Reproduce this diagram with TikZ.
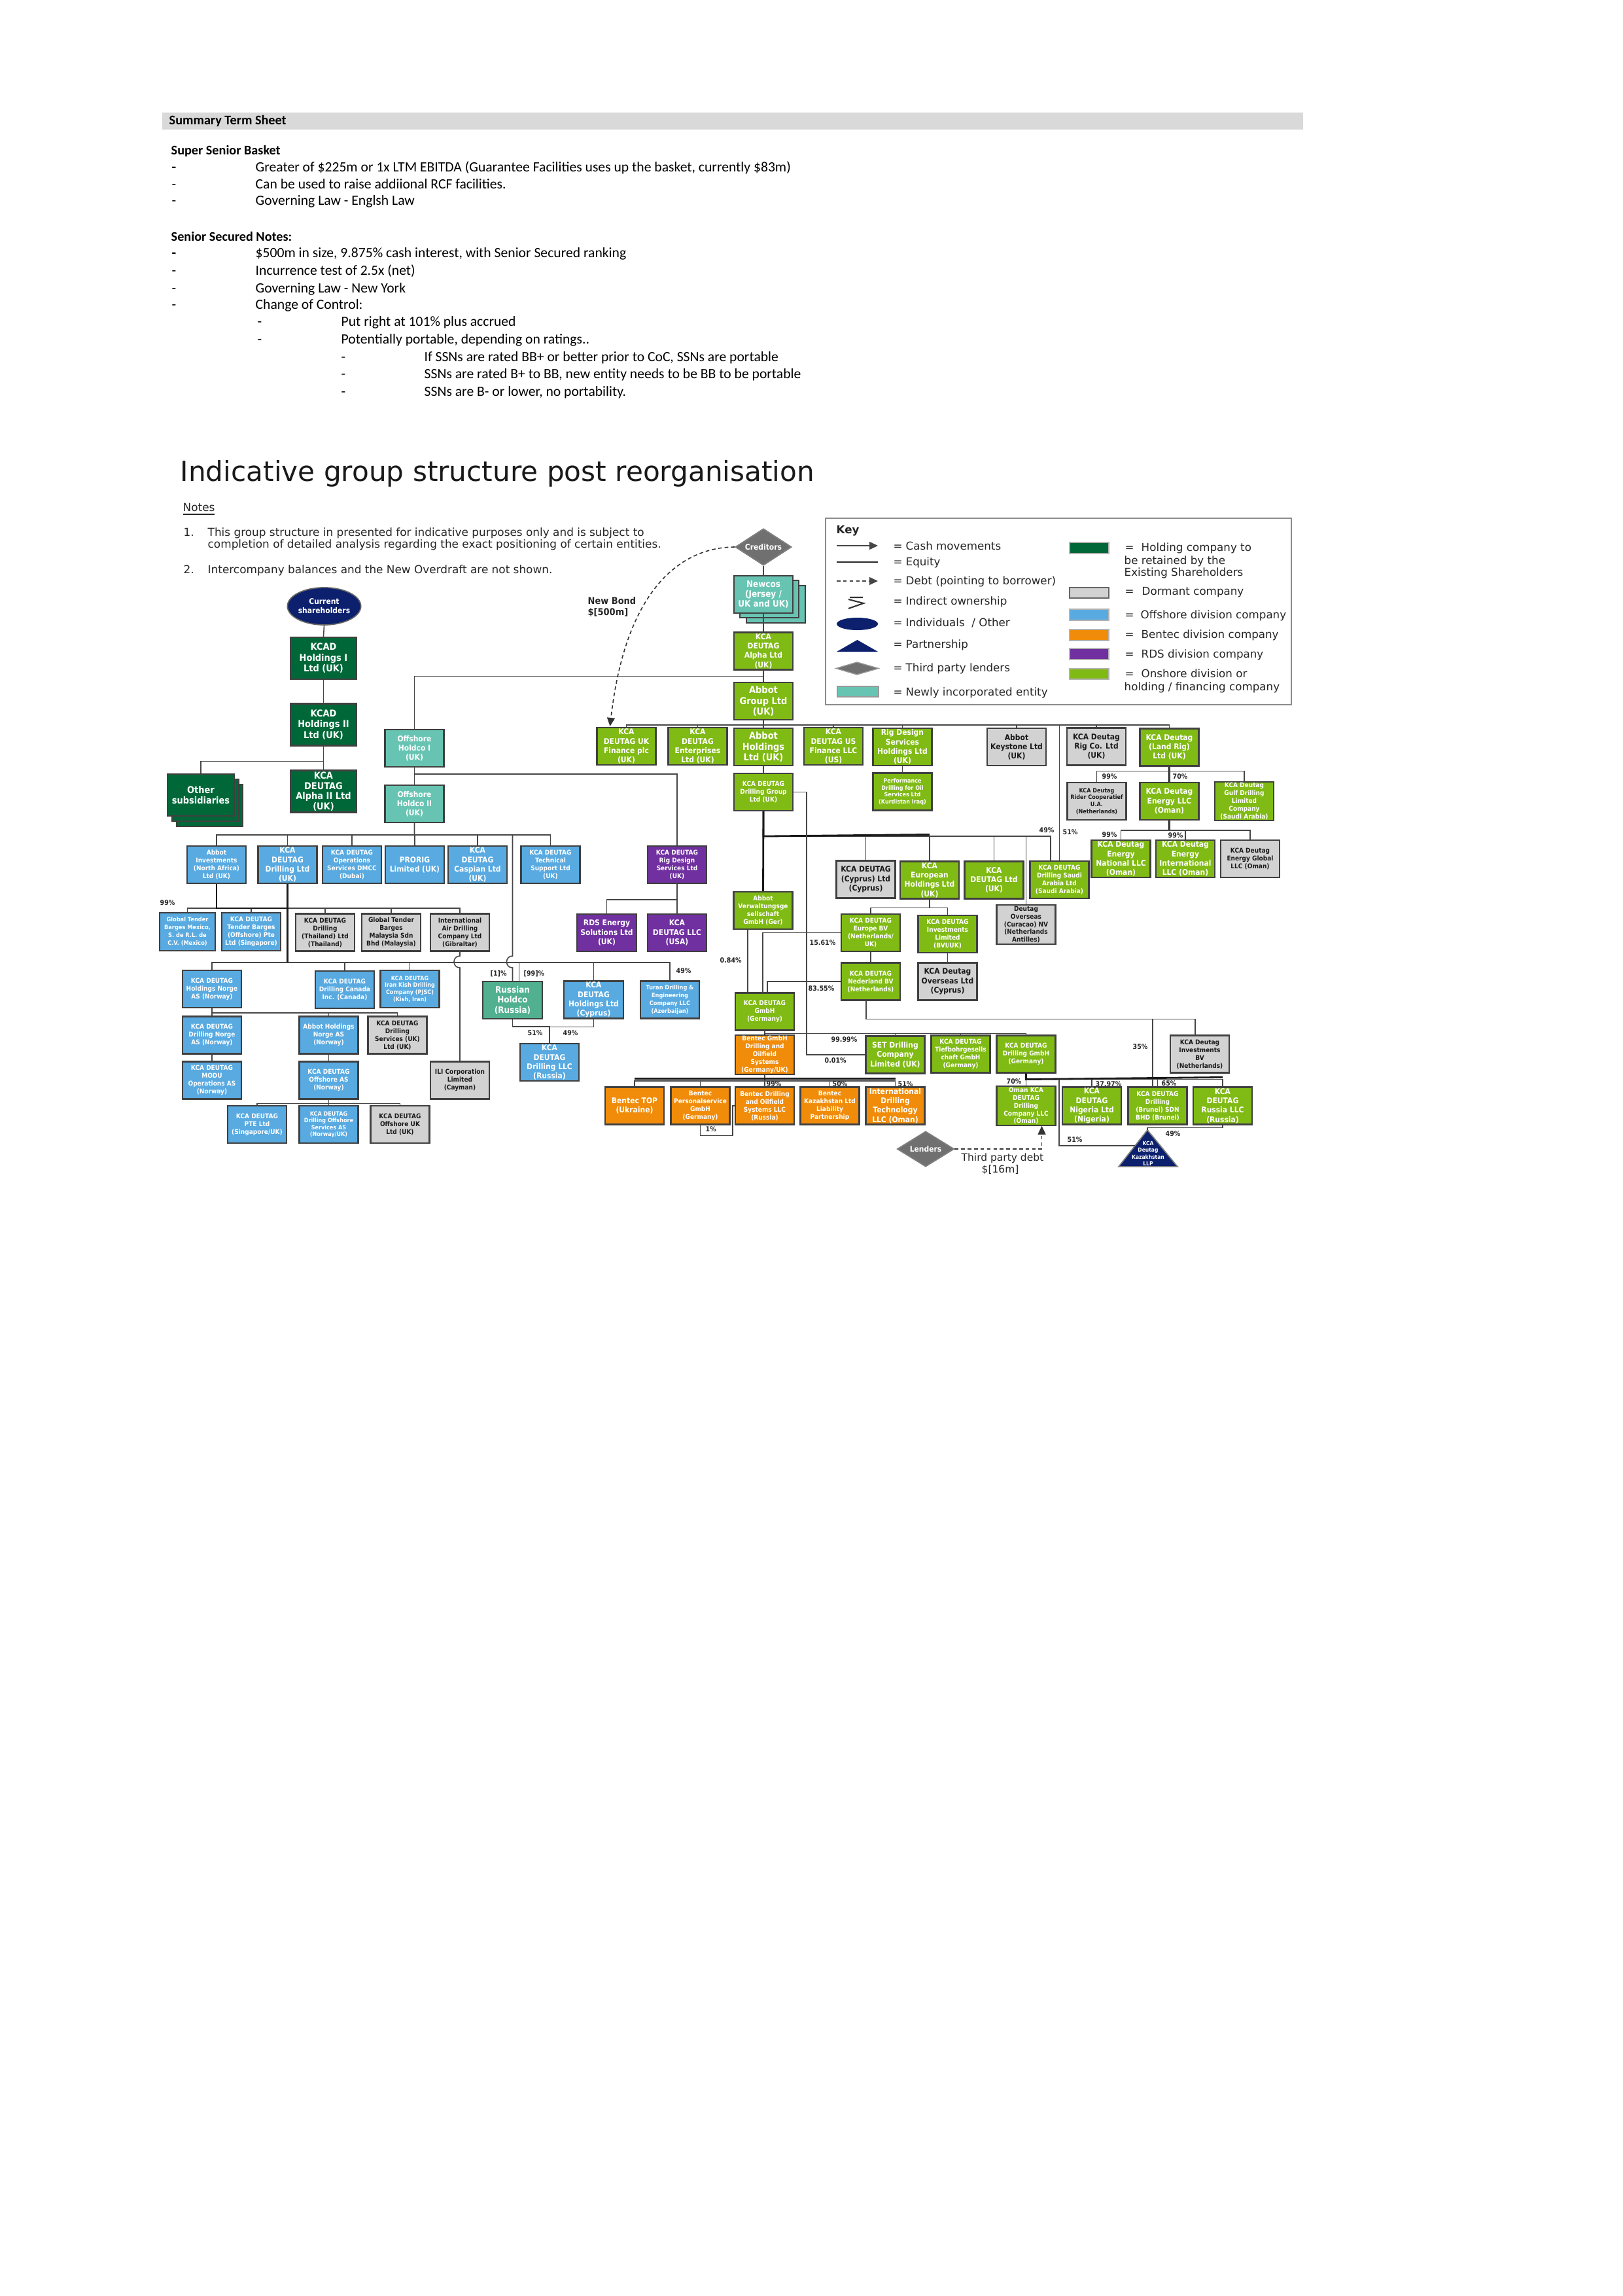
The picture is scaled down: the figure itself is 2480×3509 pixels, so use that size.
\documentclass[tikz,border=0pt]{standalone}
\usepackage{fontspec}
\setmainfont{DejaVu Sans}
\newfontfamily\tsfont{Carlito}
\newfontfamily\boxfont[FakeStretch=0.9]{DejaVu Sans}
\newfontfamily\dvfont{DejaVu Sans}
\usetikzlibrary{arrows.meta,shapes.geometric,calc}
\definecolor{cLime}{RGB}{128,186,20}
\definecolor{cDark}{RGB}{0,104,56}
\definecolor{cBlue}{RGB}{88,170,225}
\definecolor{cGray}{RGB}{210,210,210}
\definecolor{cOrange}{RGB}{240,140,10}
\definecolor{cPurple}{RGB}{112,48,160}
\definecolor{cTeal}{RGB}{104,196,178}
\definecolor{cTealD}{RGB}{80,176,144}
\definecolor{cNavy}{RGB}{12,32,110}
\definecolor{cDiam}{RGB}{112,112,112}
\definecolor{cBar}{RGB}{217,217,217}
\definecolor{cLine}{RGB}{70,70,70}
\tikzset{
 bx/.style={draw=black!75, line width=0.6pt, inner sep=0.4pt, align=center, minimum width=0.9cm, minimum height=0.57cm, text=white},
 gbox/.style={bx, fill=cLime},
 bbox/.style={bx, fill=cBlue},
 ybox/.style={bx, fill=cGray, text=black!90},
 obox/.style={bx, fill=cOrange},
 pbox/.style={bx, fill=cPurple},
 dbox/.style={bx, fill=cDark, minimum width=1.01cm, minimum height=0.64cm},
 tbox/.style={bx, fill=cTeal},
 fK/.style={font=\boxfont\bfseries\fontsize{4.1}{4.7}\selectfont},
 fA/.style={font=\boxfont\bfseries\fontsize{3.8}{4.4}\selectfont},
 fB/.style={font=\boxfont\bfseries\fontsize{3.4}{4.05}\selectfont},
 fC/.style={font=\boxfont\bfseries\fontsize{2.85}{3.4}\selectfont},
 fCn/.style={font=\boxfont\bfseries\fontsize{2.6}{3.4}\selectfont},
 fD/.style={font=\boxfont\bfseries\fontsize{2.55}{3.0}\selectfont},
 ln/.style={draw=cLine, line width=0.45pt},
 thk/.style={draw=black!90, line width=0.8pt},
 pct/.style={anchor=base west, inner sep=0pt, font=\boxfont\bfseries\fontsize{3}{3.5}\selectfont, text=black!85},
 ts/.style={anchor=base west, inner sep=0pt, font=\tsfont\fontsize{6.15}{7}\selectfont},
 tsb/.style={anchor=base west, inner sep=0pt, font=\tsfont\bfseries\fontsize{5.75}{7}\selectfont},
 nt/.style={anchor=base west, inner sep=0pt, font=\dvfont\fontsize{4.8}{5.5}\selectfont, text=black!85},
 keyt/.style={anchor=base west, inner sep=0pt, font=\dvfont\fontsize{4.75}{5.4}\selectfont, text=black!85},
 tip/.style={-{Triangle[length=3.7pt,width=3.4pt]}},
}
\begin{document}
\begin{tikzpicture}[x=0.01cm,y=-0.01cm]
\useasboundingbox (0,0) rectangle (2480,3509);
\fill[white] (0,0) rectangle (2480,3509);
% ================= Term sheet
\fill[cBar] (248,172) rectangle (1992,198);
\node[tsb] (tsT) at (258,191) {Summary Term Sheet};
\node[tsb] (tsH1) at (261,236) {Super Senior Basket};
\node[ts] (tsd1) at (262,262) {\textbf{-}};
\node[ts] (tsl1) at (390,262) {Greater of \$225m or 1x LTM EBITDA (Guarantee Facilities uses up the basket, currently \$83m)};
\node[ts] (tsd2) at (262,288) {-};
\node[ts] (tsl2) at (390,288) {Can be used to raise addiional RCF facilities.};
\node[ts] (tsd3) at (262,313) {-};
\node[ts] (tsl3) at (390,313) {Governing Law - Englsh Law};
\node[tsb] (tsH2) at (261,368) {Senior Secured Notes:};
\node[ts] (tsd4) at (262,393) {\textbf{-}};
\node[ts] (tsl4) at (390,393) {\$500m in size, 9.875\% cash interest, with Senior Secured ranking};
\node[ts] (tsd5) at (262,420) {-};
\node[ts] (tsl5) at (390,420) {Incurrence test of 2.5x (net)};
\node[ts] (tsd6) at (262,447) {-};
\node[ts] (tsl6) at (390,447) {Governing Law - New York};
\node[ts] (tsd7) at (262,472) {-};
\node[ts] (tsl7) at (390,472) {Change of Control:};
\node[ts] (tsd8) at (393,498) {-};
\node[ts] (tsl8) at (521,498) {Put right at 101\% plus accrued};
\node[ts] (tsd9) at (393,525) {-};
\node[ts] (tsl9) at (521,525) {Potentially portable, depending on ratings..};
\node[ts] (tsd10) at (521,552) {-};
\node[ts] (tsl10) at (648,552) {If SSNs are rated BB+ or better prior to CoC, SSNs are portable};
\node[ts] (tsd11) at (521,578) {-};
\node[ts] (tsl11) at (648,578) {SSNs are rated B+ to BB, new entity needs to be BB to be portable};
\node[ts] (tsd12) at (521,605) {-};
\node[ts] (tsl12) at (648,605) {SSNs are B- or lower, no portability.};
% ================= Title and notes
\node[anchor=base west, inner sep=0pt, font=\dvfont\fontsize{12}{14}\selectfont, text=black!90] (title) at (275,735) {Indicative group structure post reorganisation};
\node[nt] (notes) at (279,781) {\underline{Notes}};
\node[nt] (n1) at (280,819) {1.};
\node[nt] (n1a) at (317,819) {This group structure in presented for indicative purposes only and is subject to};
\node[nt] (n1b) at (317,837) {completion of detailed analysis regarding the exact positioning of certain entities.};
\node[nt] (n2) at (280,876) {2.};
\node[nt] (n2a) at (317,876) {Intercompany balances and the New Overdraft are not shown.};
% ================= Key
\draw[draw=black!45, line width=0.7pt] (1262,792) rectangle (1974,1077);
\node[keyt, font=\dvfont\bfseries\fontsize{4.75}{5.4}\selectfont] (keyT) at (1278,815) {Key};
\coordinate (kA1) at (1279,834); \coordinate (kA2) at (1342,834);
\draw[ln, tip] (kA1) -- (kA2);
\coordinate (kB1) at (1279,859); \coordinate (kB2) at (1342,859);
\draw[ln, draw=black!85] (kB1) -- (kB2);
\coordinate (kC1) at (1279,888); \coordinate (kC2) at (1342,888);
\draw[ln, dash pattern=on 1.6pt off 1.2pt, tip] (kC1) -- (kC2);
\draw[line width=0.6pt, draw=black!80] (1299,913) -- (1319,913) (1297,916) -- (1320,922) -- (1297,930);
\fill[cNavy] (1310.5,953.5) ellipse[x radius=31.5, y radius=9.5];
\fill[cNavy] (1279,996) -- (1310.5,978) -- (1342,996) -- cycle;
\filldraw[fill=cDiam, draw=black!40] (1278,1021.5) -- (1310,1012) -- (1343,1021.5) -- (1310,1031) -- cycle;
\filldraw[fill=cTeal, draw=black!40] (1280,1049) rectangle (1343,1065);
\foreach \yy/\tt [count=\i] in {840/{Cash movements},864/{Equity},893/{Debt (pointing to borrower)},924/{Indirect ownership},957/{Individuals ~/ Other},990/{Partnership},1026/{Third party lenders},1063/{Newly incorporated entity}}{
  \node[keyt] (keq\i) at (1365,\yy) {=};
  \node[keyt] (ktx\i) at (1384,\yy) {\tt};
}
\filldraw[fill=cDark, draw=black!30] (1635,829) rectangle (1695,846);
\filldraw[fill=cGray, draw=black!60] (1635,898) rectangle (1695,914);
\filldraw[fill=cBlue, draw=black!30] (1635,931) rectangle (1695,948);
\filldraw[fill=cOrange, draw=black!30] (1635,962) rectangle (1695,979);
\filldraw[fill=cPurple, draw=black!30] (1635,991) rectangle (1695,1008);
\filldraw[fill=cLime, draw=black!30] (1635,1022) rectangle (1695,1038);
\node[keyt] (kr1e) at (1719,842) {=};
\node[keyt] (kr1) at (1744,842) {Holding company to};
\node[keyt] (kr1b) at (1718,862) {be retained by the};
\node[keyt] (kr1c) at (1718,880) {Existing Shareholders};
\node[keyt] (kr2e) at (1719,909) {=};
\node[keyt] (kr2) at (1745,909) {Dormant company};
\node[keyt] (kr3e) at (1719,945) {=};
\node[keyt] (kr3) at (1743,945) {Offshore division company};
\node[keyt] (kr4e) at (1719,975) {=};
\node[keyt] (kr4) at (1744,975) {Bentec division company};
\node[keyt] (kr5e) at (1719,1005) {=};
\node[keyt] (kr5) at (1744,1005) {RDS division company};
\node[keyt] (kr6e) at (1719,1035) {=};
\node[keyt] (kr6) at (1744,1035) {Onshore division or};
\node[keyt] (kr6b) at (1718,1055) {holding / financing company};
% ================= Nodes: left holding column
\node[ellipse, fill=cNavy, draw=black!60, line width=0.5pt, minimum width=1.01cm, minimum height=0.57cm, inner sep=0pt, align=center, text=white, fB] (cs) at (495.5,926.5) {Current\\shareholders};
\node[dbox, fK] (kcad1) at (494.5,1006) {KCAD\\Holdings I\\Ltd (UK)};
\node[dbox, fK] (kcad2) at (494.5,1107.5) {KCAD\\Holdings II\\Ltd (UK)};
\node[dbox, fK, font=\boxfont\bfseries\fontsize{4.1}{4.5}\selectfont] (alpha2) at (494.5,1209.5) {KCA\\DEUTAG\\Alpha II Ltd\\(UK)};
\filldraw[fill=cDark, draw=black!75, line width=0.6pt] (270,1199) rectangle (371,1263);
\filldraw[fill=cDark, draw=black!75, line width=0.6pt] (263,1191) rectangle (365,1255);
\node[dbox, fK, minimum width=1.02cm] (other) at (307,1215) {Other\\subsidiaries};
% teal
\node[tbox, fB] (holdco1) at (633.5,1143.5) {Offshore\\Holdco I\\(UK)};
\node[tbox, fB] (holdco2) at (633.5,1228.5) {Offshore\\Holdco II\\(UK)};
\filldraw[fill=cTeal, draw=black!75, line width=0.6pt] (1141,895) rectangle (1231,952);
\filldraw[fill=cTeal, draw=black!75, line width=0.6pt] (1131,887) rectangle (1221,944);
\node[tbox, fA] (newcos) at (1167,908.5) {Newcos\\(Jersey /\\UK and UK)};
\node[tbox, fill=cTealD, fA, minimum width=0.91cm] (russian) at (783.5,1528.5) {Russian\\Holdco\\(Russia)};
% diamonds
\node[diamond, aspect=1.55, fill=cDiam, draw=black!50, line width=0.5pt, minimum width=0.86cm, minimum height=0.56cm, inner sep=0pt, text=white, fB] (cred) at (1167,836) {Creditors};
\node[diamond, aspect=1.6, fill=cDiam, draw=black!50, line width=0.5pt, minimum width=0.87cm, minimum height=0.54cm, inner sep=0pt, text=white, fB] (lenders) at (1415,1756) {Lenders};
% text labels
\node[anchor=base west, inner sep=0pt, font=\boxfont\bfseries\fontsize{4.1}{5}\selectfont, text=black!85] (nb1) at (898,923) {New Bond};
\node[anchor=base west, inner sep=0pt, font=\boxfont\bfseries\fontsize{4.1}{5}\selectfont, text=black!85] (nb2) at (898,940) {\$[500m]};
\node[anchor=base west, inner sep=0pt, font=\dvfont\fontsize{4.4}{5}\selectfont, text=black!85] (tpd1) at (1469,1774) {Third party debt};
\node[anchor=base west, inner sep=0pt, font=\dvfont\fontsize{4.4}{5}\selectfont, text=black!85] (tpd2) at (1500,1792) {\$[16m]};
% lime main column
\node[gbox, fB] (alpha) at (1167,995) {KCA\\DEUTAG\\Alpha Ltd\\(UK)};
\node[gbox, fK] (abbotgroup) at (1167,1071.5) {Abbot\\Group Ltd\\(UK)};
\node[gbox, fB] (ukfin) at (957.5,1140.5) {KCA\\DEUTAG UK\\Finance plc\\(UK)};
\node[gbox, fB] (enterprises) at (1066.5,1140.5) {KCA\\DEUTAG\\Enterprises\\Ltd (UK)};
\node[gbox, fK] (abbotholdings) at (1167,1141.5) {Abbot\\Holdings\\Ltd (UK)};
\node[gbox, fB] (usfin) at (1274,1140.5) {KCA\\DEUTAG US\\Finance LLC\\(US)};
\node[gbox, fB] (rigdesignhold) at (1379.5,1141.5) {Rig Design\\Services\\Holdings Ltd\\(UK)};
\node[gbox, fD] (perf) at (1379.5,1210) {Performance\\Drilling for Oil\\Services Ltd\\(Kurdistan Iraq)};
\node[gbox, fC] (drillgroup) at (1167,1210.5) {KCA DEUTAG\\Drilling Group\\Ltd (UK)};
\node[gbox, fC] (verw) at (1166.5,1391.5) {Abbot\\Verwaltungsge\\sellschaft\\GmbH (Ger)};
\node[gbox, fB] (european) at (1421,1345) {KCA\\European\\Holdings Ltd\\(UK)};
\node[gbox, fB] (kcaltd) at (1519.5,1345) {KCA\\DEUTAG Ltd\\(UK)};
\node[gbox, fC] (saudi) at (1619.5,1344.5) {KCA DEUTAG\\Drilling Saudi\\Arabia Ltd\\(Saudi Arabia)};
\node[gbox, fC] (europebv) at (1331,1425.5) {KCA DEUTAG\\Europe BV\\(Netherlands/\\UK)};
\node[gbox, fC] (investments) at (1448.5,1427.5) {KCA DEUTAG\\Investments\\Limited\\(BVI/UK)};
\node[gbox, fC] (nederland) at (1331,1500) {KCA DEUTAG\\Nederland BV\\(Netherlands)};
\node[gbox, fC] (gmbh) at (1169,1546) {KCA DEUTAG\\GmbH\\(Germany)};
\node[gbox, fB] (set) at (1368.5,1612) {SET Drilling\\Company\\Limited (UK)};
\node[gbox, fC] (tiefbohr) at (1468.5,1611) {KCA DEUTAG\\Tiefbohrgesells\\chaft GmbH\\(Germany)};
\node[gbox, fC] (drillgmbh) at (1568.5,1611) {KCA DEUTAG\\Drilling GmbH\\(Germany)};
\node[gbox, fC] (omankca) at (1568.5,1690) {Oman KCA\\DEUTAG\\Drilling\\Company LLC\\(Oman)};
\node[gbox, fB] (nigeria) at (1669,1690) {KCA\\DEUTAG\\Nigeria Ltd\\(Nigeria)};
\node[gbox, fC] (brunei) at (1769.5,1690) {KCA DEUTAG\\Drilling\\(Brunei) SDN\\BHD (Brunei)};
\node[gbox, fB] (russiallc) at (1869,1690) {KCA\\DEUTAG\\Russia LLC\\(Russia)};
\node[gbox, fB] (landrig) at (1787.5,1142) {KCA Deutag\\(Land Rig)\\Ltd (UK)};
\node[gbox, fB] (energyllc) at (1787.5,1224.5) {KCA Deutag\\Energy LLC\\(Oman)};
\node[gbox, fC] (gulf) at (1902,1224.5) {KCA Deutag\\Gulf Drilling\\Limited\\Company\\(Saudi Arabia)};
\node[gbox, fB] (national) at (1713.5,1312.5) {KCA Deutag\\Energy\\National LLC\\(Oman)};
\node[gbox, fB] (international) at (1812,1312.5) {KCA Deutag\\Energy\\International\\LLC (Oman)};
% gray (dormant)
\node[ybox, fB] (keystone) at (1554,1141.5) {Abbot\\Keystone Ltd\\(UK)};
\node[ybox, fB] (rigco) at (1676,1141) {KCA Deutag\\Rig Co. Ltd\\(UK)};
\node[ybox, fD] (rider) at (1676.5,1224.5) {KCA Deutag\\Rider Cooperatief\\U.A.\\(Netherlands)};
\node[ybox, fC] (global) at (1911,1312.5) {KCA Deutag\\Energy Global\\LLC (Oman)};
\node[ybox, fB] (cyprusltd) at (1323.5,1344) {KCA DEUTAG\\(Cyprus) Ltd\\(Cyprus)};
\node[ybox, fC] (curacao) at (1568.5,1413) {Deutag\\Overseas\\(Curacao) NV\\(Netherlands\\Antilles)};
\node[ybox, fB] (overseas) at (1448.5,1500) {KCA Deutag\\Overseas Ltd\\(Cyprus)};
\node[ybox, fC] (invbv) at (1834,1611) {KCA Deutag\\Investments\\BV\\(Netherlands)};
\node[ybox, fC] (thailand) at (497,1425) {KCA DEUTAG\\Drilling\\(Thailand) Ltd\\(Thailand)};
\node[ybox, fC] (malaysia) at (598,1425) {Global Tender\\Barges\\Malaysia Sdn\\Bhd (Malaysia)};
\node[ybox, fC] (iad) at (703,1425) {International\\Air Drilling\\Company Ltd\\(Gibraltar)};
\node[ybox, fC] (drillserv) at (607.5,1582) {KCA DEUTAG\\Drilling\\Services (UK)\\Ltd (UK)};
\node[ybox, fC] (ili) at (703,1651) {ILI Corporation\\Limited\\(Cayman)};
\node[ybox, fC] (offshoreuk) at (611.5,1718.5) {KCA DEUTAG\\Offshore UK\\Ltd (UK)};
% blue (offshore)
\node[bbox, fC] (abbotinv) at (331,1321.5) {Abbot\\Investments\\(North Africa)\\Ltd (UK)};
\node[bbox, fB] (kcadrill) at (439.5,1321.5) {KCA\\DEUTAG\\Drilling Ltd\\(UK)};
\node[bbox, fC] (dmcc) at (538,1321.5) {KCA DEUTAG\\Operations\\Services DMCC\\(Dubai)};
\node[bbox, fB] (prorig) at (634,1321.5) {PRORIG\\Limited (UK)};
\node[bbox, fB] (caspian) at (730,1321.5) {KCA\\DEUTAG\\Caspian Ltd\\(UK)};
\node[bbox, fC] (techsupport) at (841.5,1321.5) {KCA DEUTAG\\Technical\\Support Ltd\\(UK)};
\node[bbox, fCn, minimum width=0.85cm, minimum height=0.58cm] (mexico) at (286.5,1424) {Global Tender\\Barges Mexico,\\S. de R.L. de\\C.V. (Mexico)};
\node[bbox, fC, minimum height=0.58cm] (tenderbarges) at (384,1424) {KCA DEUTAG\\Tender Barges\\(Offshore) Pte\\Ltd (Singapore)};
\node[bbox, fC] (norge) at (324,1511.5) {KCA DEUTAG\\Holdings Norge\\AS (Norway)};
\node[bbox, fC] (canada) at (527,1512.5) {KCA DEUTAG\\Drilling Canada\\Inc. (Canada)};
\node[bbox, fD] (iran) at (626.5,1511.5) {KCA DEUTAG\\Iran Kish Drilling\\Company (PJSC)\\(Kish, Iran)};
\node[bbox, fC] (drillnorge) at (324,1582) {KCA DEUTAG\\Drilling Norge\\AS (Norway)};
\node[bbox, fC] (abbotnorge) at (502.5,1582) {Abbot Holdings\\Norge AS\\(Norway)};
\node[bbox, fC] (modu) at (324,1651) {KCA DEUTAG\\MODU\\Operations AS\\(Norway)};
\node[bbox, fC] (offshoreas) at (502.5,1651) {KCA DEUTAG\\Offshore AS\\(Norway)};
\node[bbox, fC] (pte) at (393,1718.5) {KCA DEUTAG\\PTE Ltd\\(Singapore/UK)};
\node[bbox, fD] (dos) at (502.5,1718.5) {KCA DEUTAG\\Drilling Offshore\\Services AS\\(Norway/UK)};
\node[bbox, fB, minimum width=0.91cm] (cyprushold) at (907.5,1528) {KCA\\DEUTAG\\Holdings Ltd\\(Cyprus)};
\node[bbox, fCn] (turan) at (1024,1528) {Turan Drilling \&\\Engineering\\Company LLC\\(Azerbaijan)};
\node[bbox, fB] (drillllc) at (840,1623.5) {KCA\\DEUTAG\\Drilling LLC\\(Russia)};
% purple (RDS)
\node[pbox, fC] (rigdesign) at (1035,1321.5) {KCA DEUTAG\\Rig Design\\Services Ltd\\(UK)};
\node[pbox, fB, minimum width=0.91cm] (rdsenergy) at (927.5,1425.5) {RDS Energy\\Solutions Ltd\\(UK)};
\node[pbox, fB] (kcallc) at (1035,1425.5) {KCA\\DEUTAG LLC\\(USA)};
% orange (Bentec)
\node[obox, fC] (bentec) at (1169,1612) {Bentec GmbH\\Drilling and\\Oilfield\\Systems\\(Germany/UK)};
\node[obox, fB] (bentectop) at (970,1690) {Bentec TOP\\(Ukraine)};
\node[obox, fC] (personal) at (1070.5,1690) {Bentec\\Personalservice\\GmbH\\(Germany)};
\node[obox, fC] (bentecrussia) at (1169,1690) {Bentec Drilling\\and Oilfield\\Systems LLC\\(Russia)};
\node[obox, fC] (kazakh) at (1268.5,1690) {Bentec\\Kazakhstan Ltd\\Liability\\Partnership};
\node[obox, fB] (idt) at (1368.5,1690) {International\\Drilling\\Technology\\LLC (Oman)};
% partnership triangle
\filldraw[fill=cNavy, draw=black!50, line width=0.5pt] (1710,1783) -- (1754,1727) -- (1800,1783) -- cycle;
\node[align=center, inner sep=0pt, text=white, font=\boxfont\bfseries\fontsize{2.4}{2.95}\selectfont] (kz) at (1755,1763) {KCA\\Deutag\\Kazakhstan\\LLP};
\coordinate (kzTop) at (1754,1727);
\coordinate (kzLeft) at (1735,1751);
% ================= Connectors
\draw[ln] (cs.south) -- (kcad1.north);
\draw[ln] (kcad1.south) -- (kcad2.north);
\draw[ln] (kcad2.south) -- (alpha2.north);
\draw[ln] ($(kcad2.south)+(0,23)$) -| (other.north);
\draw[ln] (cred.south) -- (newcos.north);
\draw[ln] (newcos.south) -- (alpha.north);
\draw[ln] (alpha.south) -- (abbotgroup.north);
\draw[ln] ($(alpha.south)+(0,9)$) -| (holdco1.north);
\draw[ln] (holdco1.south) -- (holdco2.north);
\draw[ln] ($(holdco1.south)+(0,10)$) -| (rigdesign.north);
% Holdco II bus
\foreach \c in {abbotinv,kcadrill,dmcc,prorig,caspian,techsupport}{
  \draw[ln] (holdco2.south) -- ++(0,18) -| (\c.north);
}
\coordinate (hopA) at (783.5,1461);
\coordinate (hopB) at (783.5,1479);
\draw[ln] (holdco2.south) -- ++(0,18) -| (hopA) .. controls +(-12,0) and +(-12,0) .. (hopB) -- (russian.north);
% Abbot Investments bus
\foreach \c in {mexico,tenderbarges,thailand,malaysia,iad}{
  \draw[ln] (abbotinv.south) -- ++(0,37) -| (\c.north);
}
\draw[thk] (abbotinv.south) -- ++(0,37) -- ($(kcadrill.south)+(0,37)$);
% KCA Deutag Drilling Ltd bus
\foreach \c in {norge,canada,iran,cyprushold,turan}{
  \draw[ln] (kcadrill.south) -- ++(0,120) -| (\c.north);
}
\draw[ln] (kcadrill.south) -- ++(0,120) -| ($(russian.north)+(10,0)$);
\draw[thk] (kcadrill.south) -- ++(0,120);
\coordinate (hop2A) at (703,1461);
\coordinate (hop2B) at (703,1479);
\draw[ln] (iad.south) -- (hop2A) .. controls +(-12,0) and +(-12,0) .. (hop2B) -- (ili.north);
% Norway
\foreach \c in {drillnorge,abbotnorge,drillserv}{
  \draw[ln] (norge.south) -- ++(0,7) -| (\c.north);
}
\draw[ln] (drillnorge.south) -- (modu.north);
\draw[ln] (abbotnorge.south) -- (offshoreas.north);
\foreach \c in {pte,dos,offshoreuk}{
  \draw[ln] (offshoreas.south) -- ++(0,6) -| (\c.north);
}
% Russia
\draw[ln] (russian.south) -- ++(0,11) -| (drillllc.north);
\draw[ln] (cyprushold.south) -- ++(0,12) -| (drillllc.north);
% RDS
\foreach \c in {rdsenergy,kcallc}{
  \draw[ln] (rigdesign.south) -- ++(0,24) -| (\c.north);
}
% Abbot Group bus
\foreach \c in {ukfin,enterprises,abbotholdings,usfin,rigdesignhold,keystone,rigco,landrig,saudi}{
  \draw[ln] (abbotgroup.south) -- ++(0,7) -| (\c.north);
}
\draw[ln] (abbotholdings.south) -- (drillgroup.north);
\draw[ln] (rigdesignhold.south) -- (perf.north);
% Drilling Group
\draw[thk] (drillgroup.south) -- (verw.north);
\foreach \c in {cyprusltd,european,kcaltd,curacao}{
  \draw[ln] (drillgroup.south) -- ++(0,38) -| (\c.north);
}
\draw[ln] (drillgroup.south) -- ++(0,38) -| ($(saudi.north)+(-13.5,0)$);
\draw[thk] (drillgroup.south) -- ++(0,38) -- ($(european.north)+(0,-40)$);
\draw[ln] (drillgroup.east) -- ++(20,0) |- (set.west);
% European
\foreach \c in {europebv,investments}{
  \draw[ln] (european.south) -- ++(0,13) -| (\c.north);
}
\draw[ln] (europebv.south) -- (nederland.north);
\draw[ln] (investments.south) -- (overseas.north);
\draw[ln] (europebv.west) -| ($(gmbh.north)+(-3,0)$);
\draw[ln] (nederland.west) -| ($(gmbh.north)+(4,0)$);
\draw[ln] ($(verw.south)+(-23.5,0)$) -- ($(gmbh.north)+(-26,0)$);
\draw[ln] ($(nederland.south)+(-7,0)$) -- ++(0,28) -| ($(invbv.north)+(-7,0)$);
\draw[ln] ($(nederland.south)+(-7,28)$) -| ($(brunei.north)+(-7.5,0)$);
% GmbH
\draw[thk] (gmbh.south) -- (bentec.north);
\foreach \c in {set,tiefbohr,drillgmbh}{
  \draw[ln] (gmbh.south) -- ++(0,4) -| (\c.north);
}
\foreach \c in {bentectop,personal,bentecrussia,kazakh,idt}{
  \draw[ln] (bentec.south) -- ++(0,9) -| (\c.north);
}
\draw[thk] ($(bentectop.north)+(0,-12)$) -- ($(idt.north)+(0,-12)$);
\draw[ln] (personal.south) -- ++(0,16) -| ($(bentecrussia.west)+(-3,0)$) -- (bentecrussia.west);
\foreach \c in {omankca,nigeria,brunei,russiallc}{
  \draw[ln] (drillgmbh.south) -- ++(0,9) -| (\c.north);
}
\draw[thk] (drillgmbh.south) -- ++(0,9) -- ($(russiallc.north)+(0,-14)$);
\draw[ln] ($(drillgmbh.south)+(50.5,9)$) |- (kzLeft);
\draw[ln] (russiallc.south) -- ++(0,4) -| (kzTop);
% Land rig
\draw[thk] (landrig.south) -- (energyllc.north);
\foreach \c in {rider,energyllc,gulf}{
  \draw[ln] (landrig.south) -- ++(0,7) -| (\c.north);
}
\draw[thk] (energyllc.south) -- ++(0,15);
\foreach \c in {national,international,global}{
  \draw[ln] (energyllc.south) -- ++(0,15) -| (\c.north);
}
% debt
\draw[ln, draw=black!80, dash pattern=on 1.6pt off 1.2pt, tip] (cred.west) .. controls (1052,836) and (958,886) .. ($(ukfin.north)+(-25,-1)$);
\draw[ln, draw=black!80, dash pattern=on 1.6pt off 1.2pt, tip] (lenders.east) -| ($(omankca.south)+(24,0)$);
% ================= percentages
\node[pct] (p1) at (244,1383) {99\%};
\node[pct] (p2) at (749,1491) {[1]\%};
\node[pct] (p3) at (800,1491) {[99]\%};
\node[pct] (p4) at (806,1582) {51\%};
\node[pct] (p5) at (860,1582) {49\%};
\node[pct] (p6) at (1033,1487) {49\%};
\node[pct] (p7) at (1100,1471) {0.84\%};
\node[pct] (p8) at (1237,1444) {15.61\%};
\node[pct] (p9) at (1235,1514) {83.55\%};
\node[pct] (p10) at (1270,1592) {99.99\%};
\node[pct] (p11) at (1260,1624) {0.01\%};
\node[pct] (p12) at (1171,1660) {99\%};
\node[pct] (p13) at (1272,1660) {50\%};
\node[pct] (p14) at (1372,1660) {51\%};
\node[pct] (p15) at (1078,1729) {1\%};
\node[pct] (p16) at (1538,1656) {70\%};
\node[pct] (p17) at (1674,1660) {37.97\%};
\node[pct] (p18) at (1775,1659) {65\%};
\node[pct] (p19) at (1731,1603) {35\%};
\node[pct] (p20) at (1631,1745) {51\%};
\node[pct] (p21) at (1781,1736) {49\%};
\node[pct] (p22) at (1684,1190) {99\%};
\node[pct] (p23) at (1792,1190) {70\%};
\node[pct] (p24) at (1684,1279) {99\%};
\node[pct] (p25) at (1785,1280) {99\%};
\node[pct] (p26) at (1588,1272) {49\%};
\node[pct] (p27) at (1624,1275) {51\%};
\end{tikzpicture}
\end{document}
